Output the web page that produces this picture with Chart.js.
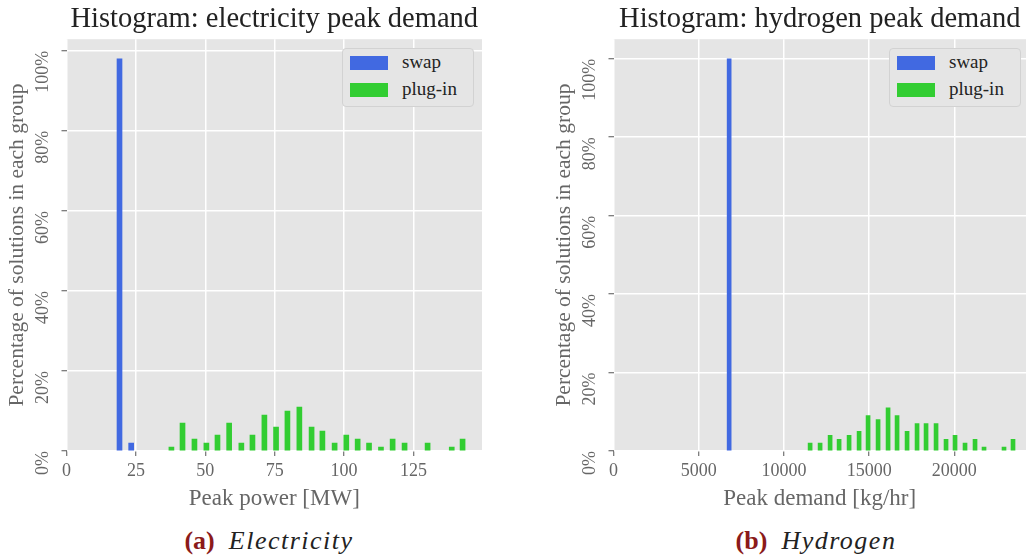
<!DOCTYPE html>
<html>
<head>
<meta charset="utf-8">
<script src="https://cdn.jsdelivr.net/npm/chart.js@4.4.1/dist/chart.umd.min.js"></script>
<style>
  body{margin:0;background:#fff;width:1026px;height:560px;position:relative;overflow:hidden;font-family:"Liberation Serif",serif;}
  canvas{position:absolute;top:0;}
  #chartA{left:0;}
  #chartB{left:547px;}
  .legend{position:absolute;top:48px;width:130px;height:57px;border:1px solid #d2d2d2;border-radius:4px;background:#e5e5e5;}
  .legend .item{position:absolute;left:7px;height:14px;font-size:19px;color:#222;}
  .legend .sw{position:absolute;left:0;top:0;width:38px;height:14px;}
  .legend .lab{position:absolute;left:52px;top:-5px;white-space:nowrap;line-height:22px;}
  .cap{position:absolute;top:527px;font-size:26px;line-height:28px;white-space:nowrap;transform:translateX(-50%);color:#222;}
  .cap b{color:#8b1a1a;margin-right:14px;}
  .cap i{letter-spacing:1.5px;}
</style>
</head>
<body>
<canvas id="chartA" width="482" height="520"></canvas>
<canvas id="chartB" width="479" height="520"></canvas>
<div class="legend" id="legA" style="left:342px"></div>
<div class="legend" id="legB" style="left:889px"></div>
<div class="cap" style="left:269px"><b>(a)</b><i>Electricity</i></div>
<div class="cap" style="left:816px"><b>(b)</b><i>Hydrogen</i></div>
<script>
// electricity: bar centres [MW] and share of solutions [%]
const elecSwapX = [19.1, 23.3];
const elecSwapPct = [98, 2];
const elecPlugX = [37.8, 41.8, 46.1, 50.4, 54.4, 58.6, 63.0, 67.0, 71.3, 75.5, 79.6, 83.9,
                   88.3, 92.2, 96.6, 100.8, 104.9, 109.0, 113.3, 117.5, 121.8, 130.1, 138.8, 142.7];
const elecPlugPct = [1, 7, 3, 2, 4, 7, 2, 4, 9, 6, 10, 11, 6, 5, 2, 4, 3, 2, 1, 3, 2, 2, 1, 3];
const elecTicks = [0, 25, 50, 75, 100, 125];

// hydrogen: bar centres [kg/hr] and share of solutions [%]
const h2SwapX = [6786];
const h2SwapPct = [100];
const h2PlugX = [11537, 12123, 12710, 13238, 13824, 14411, 14938, 15525, 16111, 16639, 17226,
                 17812, 18340, 18927, 19513, 20041, 20627, 21214, 21742, 22915, 23443];
const h2PlugPct = [2, 2, 4, 3, 4, 5, 9, 8, 11, 9, 5, 7, 7, 7, 3, 4, 2, 3, 1, 1, 3];
const h2Ticks = [0, 5000, 10000, 15000, 20000];

const pctTicks = [0, 20, 40, 60, 80, 100];
const seriesNames = ["swap", "plug-in"];
const seriesColors = ["#4169e1", "#32cd32"];

const FONT = "'Liberation Serif', serif";

const plotBg = {
  id: "plotBg",
  beforeDraw(c){
    const a = c.chartArea, ctx = c.ctx;
    ctx.save();
    ctx.fillStyle = "#e5e5e5";
    ctx.fillRect(a.left, a.top, a.right - a.left, a.bottom - a.top);
    ctx.restore();
  }
};

function pts(xs, ys){ return xs.map((x, i) => ({x: x, y: ys[i]})); }

function makeChart(id, title, xTitle, xMax, yMax, xTicks, swapX, swapPct, plugX, plugPct, barW){
  const grid = {color:"#ffffff", lineWidth:1.5, tickLength:5, tickColor:"#555", tickWidth:1, offset:false};
  return new Chart(document.getElementById(id), {
    type: "bar",
    data: {
      datasets: [
        {label: seriesNames[0], data: pts(swapX, swapPct), backgroundColor: seriesColors[0], barThickness: barW, grouped: false},
        {label: seriesNames[1], data: pts(plugX, plugPct), backgroundColor: seriesColors[1], barThickness: barW, grouped: false}
      ]
    },
    options: {
      responsive: false,
      animation: false,
      devicePixelRatio: 1,
      layout: {padding: 0},
      plugins: {
        legend: {display: false},
        tooltip: {enabled: false},
        title: {display: true, text: title, fullSize: false, color: "#222",
                font: {family: FONT, size: 28.5, weight: "normal"}, padding: {top: 2, bottom: 3}}
      },
      scales: {
        x: {
          type: "linear", min: 0, max: xMax, offset: false,
          afterBuildTicks: s => { s.ticks = xTicks.map(v => ({value: v})); },
          afterFit: s => { s.height = 69; },
          grid: grid, border: {display: false},
          ticks: {color: "#666", font: {family: FONT, size: 18}, padding: 4, maxRotation: 0, autoSkip: false,
                  callback: v => String(v)},
          title: {display: true, text: xTitle, color: "#666", font: {family: FONT, size: 23}, padding: {top: 0, bottom: 7}}
        },
        y: {
          min: 0, max: yMax,
          afterBuildTicks: s => { s.ticks = pctTicks.map(v => ({value: v})); },
          afterFit: s => { s.width = 66.5; },
          grid: grid, border: {display: false},
          ticks: {color: "#666", font: {family: FONT, size: 18}, padding: 18.5, minRotation: 90, maxRotation: 90,
                  callback: v => v + "%"},
          title: {display: true, text: "Percentage of solutions in each group", color: "#666",
                  font: {family: FONT, size: 21.5}, padding: {top: 4, bottom: 0}}
        }
      }
    },
    plugins: [plotBg]
  });
}

function buildLegend(id){
  const el = document.getElementById(id);
  seriesNames.forEach((n, i) => {
    const it = document.createElement("div");
    it.className = "item";
    it.style.top = (7 + i * 27) + "px";
    it.innerHTML = '<div class="sw" style="background:' + seriesColors[i] + '"></div><div class="lab">' + n + '</div>';
    el.appendChild(it);
  });
}

makeChart("chartA", "Histogram: electricity peak demand", "Peak power [MW]", 149.7, 102.9, elecTicks,
          elecSwapX, elecSwapPct, elecPlugX, elecPlugPct, 5);
makeChart("chartB", "Histogram: hydrogen peak demand", "Peak demand [kg/hr]", 24205, 105, h2Ticks,
          h2SwapX, h2SwapPct, h2PlugX, h2PlugPct, 4);
buildLegend("legA");
buildLegend("legB");
</script>
</body>
</html>
